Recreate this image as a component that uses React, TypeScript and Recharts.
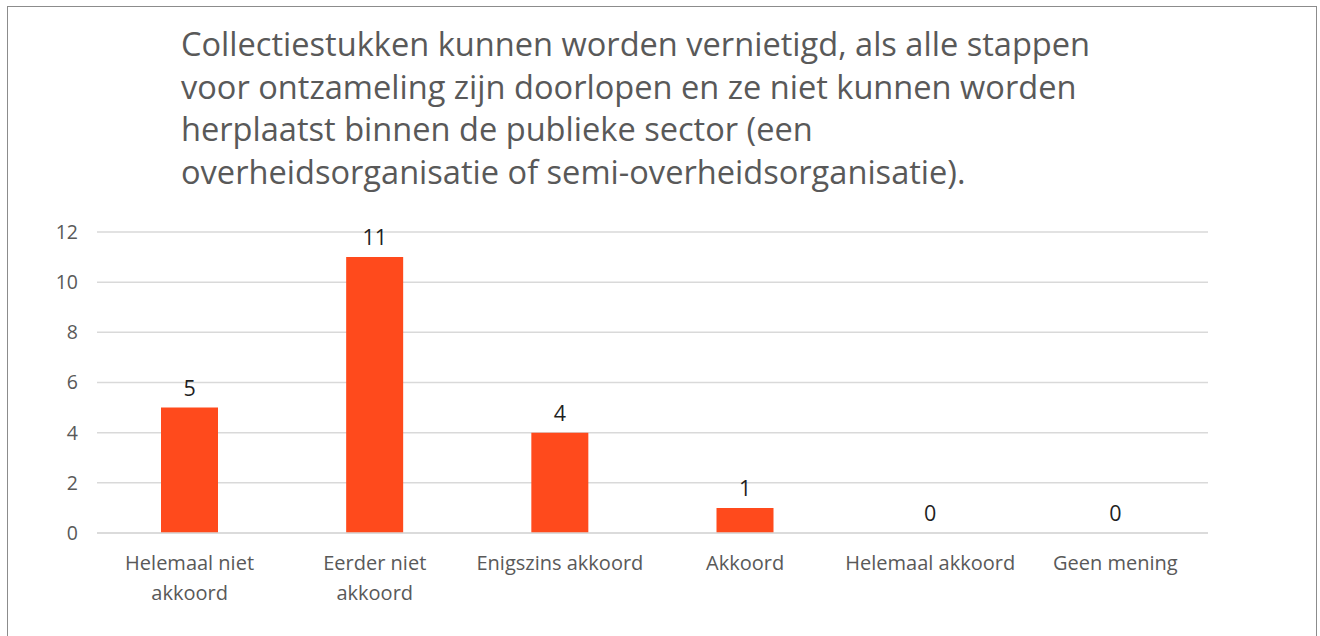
import { ComposedChart, Bar, Line, XAxis, YAxis, CartesianGrid, LabelList } from 'recharts';

const titleLines = [
  'Collectiestukken kunnen worden vernietigd, als alle stappen',
  'voor ontzameling zijn doorlopen en ze niet kunnen worden',
  'herplaatst binnen de publieke sector (een',
  'overheidsorganisatie of semi-overheidsorganisatie).',
];

const categories = [
  'Helemaal niet akkoord',
  'Eerder niet akkoord',
  'Enigszins akkoord',
  'Akkoord',
  'Helemaal akkoord',
  'Geen mening',
];
const counts = [5, 11, 4, 1, 0, 0];
const yTicks = [0, 2, 4, 6, 8, 10, 12];

const data = categories.map((name, i) => ({ name, value: counts[i] }));

const FONT = '"Open Sans", sans-serif';
const GREY = '#595959';

// greedy word wrap, roughly how the original wraps the axis labels
function wrap(label: string, max = 17) {
  const lines: string[] = [];
  let cur = '';
  for (const w of label.split(' ')) {
    const next = cur ? cur + ' ' + w : w;
    if (next.length > max && cur) {
      lines.push(cur);
      cur = w;
    } else {
      cur = next;
    }
  }
  if (cur) lines.push(cur);
  return lines;
}

function XTick({ x, y, payload }: any) {
  const lines = wrap(String(payload.value));
  return (
    <text x={x} y={y} textAnchor="middle" fill={GREY} fontSize={20} fontFamily={FONT}>
      {lines.map((l, i) => (
        <tspan key={i} x={x} dy={i === 0 ? 29 : 30}>
          {l}
        </tspan>
      ))}
    </text>
  );
}

export default function App() {
  return (
    <div style={{ position: 'absolute', left: 0, top: 0, width: 1320, height: 636, overflow: 'hidden', background: '#fff' }}>
      <div
        style={{
          position: 'absolute',
          left: 7,
          top: 6,
          width: 1308,
          height: 700,
          border: '1.5px solid #8c8c8c',
        }}
      />
      <div
        style={{
          position: 'absolute',
          left: 181,
          top: 23,
          fontFamily: FONT,
          fontSize: 32.6,
          lineHeight: '42.5px',
          color: GREY,
          whiteSpace: 'nowrap',
        }}
      >
        {titleLines.map((l) => (
          <div key={l}>{l}</div>
        ))}
      </div>
      <div style={{ position: 'absolute', left: 0, top: 0 }}>
        <ComposedChart width={1320} height={636} data={data} margin={{ top: 232, right: 112, bottom: 33, left: 0 }}>
          <CartesianGrid vertical={false} stroke="#d9d9d9" strokeWidth={1.5} />
          <XAxis
            dataKey="name"
            axisLine={{ stroke: '#d9d9d9', strokeWidth: 1.5 }}
            tickLine={false}
            height={70}
            interval={0}
            tick={<XTick />}
          />
          <YAxis
            width={97}
            domain={[0, 12]}
            ticks={yTicks}
            axisLine={false}
            tickLine={false}
            tickMargin={13}
            tick={{ fill: GREY, fontSize: 19.5, fontFamily: FONT }}
          />
          <Bar dataKey="value" fill="#FF4A1C" barSize={57} isAnimationActive={false} />
          {/* invisible line only carries the value labels, so zeros get one too */}
          <Line dataKey="value" stroke="none" dot={false} activeDot={false} isAnimationActive={false}>
            <LabelList dataKey="value" position="top" offset={12} fill="#1f1f1f" fontSize={21.5} fontFamily={FONT} />
          </Line>
        </ComposedChart>
      </div>
    </div>
  );
}
